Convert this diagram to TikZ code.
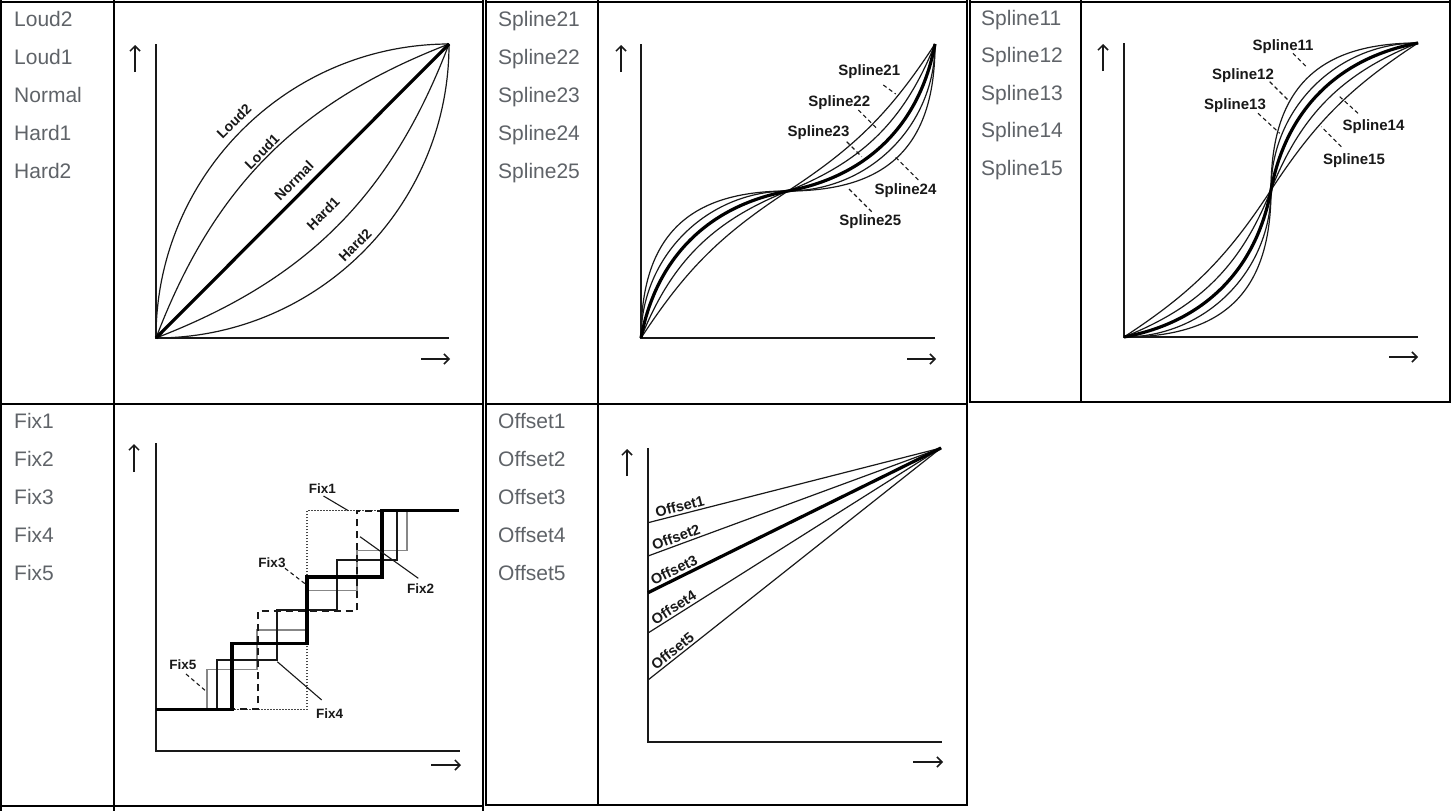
\documentclass[tikz,border=0pt]{standalone}
\usepackage{fontspec}
\setmainfont{Liberation Sans}
\usetikzlibrary{arrows.meta}
\definecolor{txtgray}{RGB}{95,99,104}
\definecolor{ink}{RGB}{25,25,25}
\definecolor{fixgray}{RGB}{135,135,135}
\begin{document}
\begin{tikzpicture}[x=1pt,y=-1pt,
  tbl/.style={line width=2pt, draw=black},
  celltxt/.style={anchor=base west, inner sep=0pt, text=txtgray, font=\fontsize{21}{25}\selectfont},
  axisline/.style={line width=2.6pt, draw=ink, line join=miter},
  crv/.style={line width=1.2pt, draw=ink},
  heavy/.style={line width=3.2pt, draw=black},
  lblL/.style={font=\bfseries\fontsize{14}{16}\selectfont, inner sep=0pt, text=ink},
  lblO/.style={font=\bfseries\fontsize{14.5}{17}\selectfont, inner sep=2pt, text=ink},
  lblS/.style={font=\bfseries\fontsize{15}{18}\selectfont, inner sep=0pt, text=ink, anchor=base},
  lblF/.style={font=\bfseries\fontsize{13.5}{16}\selectfont, inner sep=0pt, text=ink, anchor=base},
  leader/.style={line width=1.1pt, draw=ink, dash pattern=on 4pt off 3pt},
  solidleader/.style={line width=1.1pt, draw=ink},
  axarrow/.style={line width=1.5pt, draw=ink, -{Straight Barb[length=5pt,width=10pt]}},
  fixfive/.style={line width=1.2pt, draw=fixgray},
  fixone/.style={line width=1.4pt, draw=ink!80, dash pattern=on 1.5pt off 1.5pt},
  fixtwo/.style={line width=2pt, draw=ink, dash pattern=on 7pt off 5pt},
  fixfour/.style={line width=2pt, draw=ink},
]
\useasboundingbox (0,0) rectangle (1453,811);
\fill[white] (0,0) rectangle (1453,811);

% ---------- table borders ----------
% left table
\draw[tbl] (1,0) -- (1,811);
\draw[tbl] (114,0) -- (114,811);
\draw[tbl] (482.5,0) -- (482.5,811);
\draw[tbl] (0,1.5) -- (483.5,1.5);
\draw[tbl] (0,403.5) -- (483.5,403.5);
\draw[tbl] (0,806) -- (483.5,806);
% middle table
\draw[tbl] (485.5,0) -- (485.5,805.5);
\draw[tbl] (598,0) -- (598,805.5);
\draw[tbl] (967,0) -- (967,805.5);
\draw[tbl] (484.5,1.5) -- (968,1.5);
\draw[tbl] (484.5,403.5) -- (968,403.5);
\draw[tbl] (484.5,804.5) -- (968,804.5);
% right table
\draw[tbl] (969.5,0) -- (969.5,402.5);
\draw[tbl] (1081,0) -- (1081,402.5);
\draw[tbl] (1449.5,0) -- (1449.5,402.5);
\draw[tbl] (968.5,1.5) -- (1450.5,1.5);
\draw[tbl] (968.5,401.5) -- (1450.5,401.5);

% ---------- cell texts ----------
\node[celltxt] (tL1) at (14,26) {Loud2};
\node[celltxt] (tL2) at (14,64) {Loud1};
\node[celltxt] (tL3) at (14,102) {Normal};
\node[celltxt] (tL4) at (14,140) {Hard1};
\node[celltxt] (tL5) at (14,178) {Hard2};
\node[celltxt] (tM1) at (498,26) {Spline21};
\node[celltxt] (tM2) at (498,64) {Spline22};
\node[celltxt] (tM3) at (498,102) {Spline23};
\node[celltxt] (tM4) at (498,140) {Spline24};
\node[celltxt] (tM5) at (498,178) {Spline25};
\node[celltxt] (tR1) at (981,25) {Spline11};
\node[celltxt] (tR2) at (981,62.5) {Spline12};
\node[celltxt] (tR3) at (981,100) {Spline13};
\node[celltxt] (tR4) at (981,137.5) {Spline14};
\node[celltxt] (tR5) at (981,175) {Spline15};
\node[celltxt] (tF1) at (14,428.5) {Fix1};
\node[celltxt] (tF2) at (14,466.5) {Fix2};
\node[celltxt] (tF3) at (14,504.5) {Fix3};
\node[celltxt] (tF4) at (14,542.5) {Fix4};
\node[celltxt] (tF5) at (14,580.5) {Fix5};
\node[celltxt] (tO1) at (498,428.5) {Offset1};
\node[celltxt] (tO2) at (498,466.5) {Offset2};
\node[celltxt] (tO3) at (498,504.5) {Offset3};
\node[celltxt] (tO4) at (498,542.5) {Offset4};
\node[celltxt] (tO5) at (498,580.5) {Offset5};

% ---------- graph 1: Loud / Hard ----------
\draw[axisline] (156,44) -- (156,338) -- (449,338);
\draw[axarrow] (135,72) -- (135,45);
\draw[axarrow] (421,359) -- (450,359);
\begin{scope}[shift={(156,338)}, x=293pt, y=294pt]
  \draw[crv] (0,0) to[bend left=45] (1,1);
  \draw[crv] (0,0) to[bend left=24] (1,1);
  \draw[crv] (0,0) to[bend right=24] (1,1);
  \draw[crv] (0,0) to[bend right=45] (1,1);
  \draw[heavy] (0,0) -- (1,1);
\end{scope}
\node[lblL, rotate=45] (gLoud2) at (234,121.2) {Loud2};
\node[lblL, rotate=45] (gLoud1) at (262,151.7) {Loud1};
\node[lblL, rotate=45] (gNormal) at (294,180.7) {Normal};
\node[lblL, rotate=45] (gHard1) at (323,213.5) {Hard1};
\node[lblL, rotate=45] (gHard2) at (355,245) {Hard2};

% ---------- graph 2: Spline2x ----------
\draw[axisline] (641,44) -- (641,338) -- (935,338);
\draw[axarrow] (621,72) -- (621,45);
\draw[axarrow] (907,359) -- (936,359);
\begin{scope}[shift={(641,338)}, x=294pt, y=294pt]
  \draw[crv] (0,0) to[out=56.8,in=213.2] (0.5,0.5) to[out=33.2,in=236.8] (1,1);
  \draw[crv] (0,0) to[out=68.3,in=201.7] (0.5,0.5) to[out=21.7,in=248.3] (1,1);
  \draw[crv] (0,0) to[out=90,in=180] (0.5,0.5) to[out=0,in=270] (1,1);
  \draw[crv] (0,0) to[out=90,in=180,looseness=1.24] (0.5,0.5) to[out=0,in=270,looseness=1.24] (1,1);
  \draw[heavy] (0,0) to[out=79.4,in=190.6] (0.5,0.5) to[out=10.6,in=259.4] (1,1);
\end{scope}
\node[lblS] (gS21) at (869.3,75) {Spline21};
\node[lblS] (gS22) at (839.3,106) {Spline22};
\node[lblS] (gS23) at (818.5,136.7) {Spline23};
\node[lblS] (gS24) at (905.5,194.3) {Spline24};
\node[lblS] (gS25) at (870.3,225.7) {Spline25};
\coordinate (a21) at (883.3,85);   \coordinate (b21) at (895.7,94);
\coordinate (a22) at (858.3,110);  \coordinate (b22) at (876.7,128.3);
\coordinate (a23) at (846.7,141.7);\coordinate (b23) at (861.7,156.7);
\coordinate (a24) at (918.3,180);  \coordinate (b24) at (895,156.7);
\coordinate (a25) at (871.7,211.7);\coordinate (b25) at (848.3,188.3);
\draw[leader] (a21) -- (b21);
\draw[leader] (a22) -- (b22);
\draw[leader] (a23) -- (b23);
\draw[leader] (a24) -- (b24);
\draw[leader] (a25) -- (b25);

% ---------- graph 3: Spline1x ----------
\draw[axisline] (1124,43) -- (1124,337) -- (1418,337);
\draw[axarrow] (1103,71) -- (1103,44);
\draw[axarrow] (1389,357) -- (1418,357);
\begin{scope}[shift={(1124,337)}, x=294pt, y=294pt]
  \draw[crv] (0,0) to[out=33.2,in=236.8] (0.5,0.5) to[out=56.8,in=213.2] (1,1);
  \draw[crv] (0,0) to[out=21.7,in=248.3] (0.5,0.5) to[out=68.3,in=201.7] (1,1);
  \draw[crv] (0,0) to[out=0,in=270] (0.5,0.5) to[out=90,in=180] (1,1);
  \draw[crv] (0,0) to[out=0,in=270,looseness=1.24] (0.5,0.5) to[out=90,in=180,looseness=1.24] (1,1);
  \draw[heavy] (0,0) to[out=10.6,in=259.4] (0.5,0.5) to[out=79.4,in=190.6] (1,1);
\end{scope}
\node[lblS] (gS11) at (1283,50.7) {Spline11};
\node[lblS] (gS12) at (1243,79) {Spline12};
\node[lblS] (gS13) at (1235,109) {Spline13};
\node[lblS] (gS14) at (1373.5,130) {Spline14};
\node[lblS] (gS15) at (1354,164) {Spline15};
\coordinate (a11) at (1293,53.3);    \coordinate (b11) at (1306.3,66.7);
\coordinate (a12) at (1269.7,81.7);  \coordinate (b12) at (1289.7,101.7);
\coordinate (a13) at (1258,113.3);   \coordinate (b13) at (1279.7,133.3);
\coordinate (a14) at (1358,113.3);   \coordinate (b14) at (1339.7,96.7);
\coordinate (a15) at (1341.3,146.7); \coordinate (b15) at (1321.3,126.7);
\draw[leader] (a11) -- (b11);
\draw[leader] (a12) -- (b12);
\draw[leader] (a13) -- (b13);
\draw[leader] (a14) -- (b14);
\draw[leader] (a15) -- (b15);

% ---------- graph 4: Fix ----------
\draw[axisline] (156,443) -- (156,751) -- (460,751);
\draw[axarrow] (134,472) -- (134,444);
\draw[axarrow] (431,765) -- (461,765);
\draw[fixfive] (156,709.3) -- (207,709.3) -- (207,669.6) -- (257,669.6) -- (257,629.9) -- (307,629.9) -- (307,590.1) -- (357,590.1) -- (357,550.4) -- (407,550.4) -- (407,510.7) -- (459,510.7);
\draw[fixone] (156,709.3) -- (307,709.3) -- (307,510.7) -- (459,510.7);
\draw[fixtwo] (156,709.3) -- (258,709.3) -- (258,611) -- (357,611) -- (357,510.7) -- (459,510.7);
\draw[fixfour] (156,709.3) -- (217,709.3) -- (217,659.7) -- (277,659.7) -- (277,610) -- (337,610) -- (337,560.4) -- (397,560.4) -- (397,510.7) -- (459,510.7);
\draw[heavy] (156,709.3) -- (232,709.3) -- (232,643.1) -- (307,643.1) -- (307,576.9) -- (382,576.9) -- (382,510.7) -- (459,510.7);
\node[lblF] (gF1) at (322.3,493.3) {Fix1};
\node[lblF] (gF2) at (420.7,593.3) {Fix2};
\node[lblF] (gF3) at (272,567.3) {Fix3};
\node[lblF] (gF4) at (329.7,718.3) {Fix4};
\node[lblF] (gF5) at (182.8,669.3) {Fix5};
\coordinate (aF1) at (323.5,496);  \coordinate (bF1) at (348.3,510.7);
\coordinate (aF2) at (418.3,578.3);\coordinate (bF2) at (360,536.7);
\coordinate (aF3) at (285,568.3);  \coordinate (bF3) at (306.7,585);
\coordinate (aF4) at (321.7,700);  \coordinate (bF4) at (277.3,661.7);
\coordinate (aF5) at (186,674);    \coordinate (bF5) at (207,692);
\draw[solidleader] (aF1) -- (bF1);
\draw[solidleader] (aF2) -- (bF2);
\draw[leader] (aF3) -- (bF3);
\draw[solidleader] (aF4) -- (bF4);
\draw[leader] (aF5) -- (bF5);

% ---------- graph 5: Offset ----------
\draw[axisline] (648,448) -- (648,742) -- (942,742);
\draw[axarrow] (627,476) -- (627,449);
\draw[axarrow] (913,762) -- (943,762);
\coordinate (otop) at (941,448);
\coordinate (o1) at (648,522.7);
\coordinate (o2) at (648,556);
\coordinate (o3) at (648,592.7);
\coordinate (o4) at (648,633);
\coordinate (o5) at (648,680);
\draw[crv] (o1) -- (otop) node[pos=0.115, sloped, above, lblO] (gO1) {Offset1};
\draw[crv] (o2) -- (otop) node[pos=0.105, sloped, above, lblO] (gO2) {Offset2};
\draw[crv] (o4) -- (otop) node[pos=0.102, sloped, above, lblO] (gO4) {Offset4};
\draw[crv] (o5) -- (otop) node[pos=0.1, sloped, above, lblO] (gO5) {Offset5};
\draw[heavy] (o3) -- (otop) node[pos=0.102, sloped, above, lblO] (gO3) {Offset3};
\end{tikzpicture}
\end{document}
